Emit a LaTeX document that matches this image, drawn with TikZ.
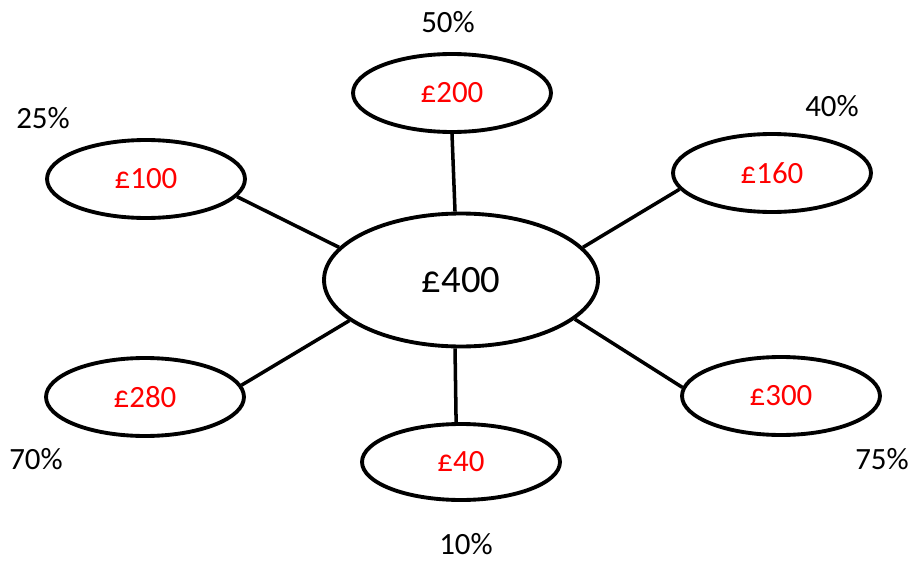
\documentclass[tikz,border=0pt]{standalone}
\usepackage{fontspec}
\setmainfont{Carlito}
\usepackage{xcolor}
\usetikzlibrary{shapes.geometric}

\begin{document}
\begin{tikzpicture}[x=0.02cm, y=-0.02cm,
  part/.style={draw, ellipse, line width=2.2pt, inner sep=0pt, minimum width=3.96cm, minimum height=1.56cm, text=red, font=\fontsize{17.6}{20}\selectfont},
  whole/.style={draw, ellipse, line width=2.2pt, inner sep=0pt, minimum width=5.48cm, minimum height=2.66cm, font=\fontsize{22}{26}\selectfont},
  pct/.style={font=\fontsize{17.6}{20}\selectfont},
  spoke/.style={line width=2pt}]
  \useasboundingbox (0,0) rectangle (914,561);
  \node[whole] (p400) at (461,280) {£400};
  \node[part] (p200) at (452,93) {£200};
  \node[part] (p100) at (146,179) {£100};
  \node[part] (p160) at (772,173) {£160};
  \node[part] (p280) at (145,397) {£280};
  \node[part, minimum height=1.52cm] (p40) at (461,462) {£40};
  \node[part] (p300) at (781,396) {£300};
  \node[pct] (q200) at (448,22) {50\%};
  \node[pct] (q100) at (43,118) {25\%};
  \node[pct] (q160) at (832,106) {40\%};
  \node[pct] (q280) at (36,459) {70\%};
  \node[pct] (q40) at (466,544) {10\%};
  \node[pct] (q300) at (882,459) {75\%};
  \draw[spoke] (p200.-90) -- (p400.95);
  \draw[spoke] (p100.-11) -- (p400.165);
  \draw[spoke] (p160.190) -- (p400.15);
  \draw[spoke] (p280.7) -- (p400.200);
  \draw[spoke] (p40.97) -- (p400.265);
  \draw[spoke] (p300.175) -- (p400.-19);
\end{tikzpicture}
\end{document}
